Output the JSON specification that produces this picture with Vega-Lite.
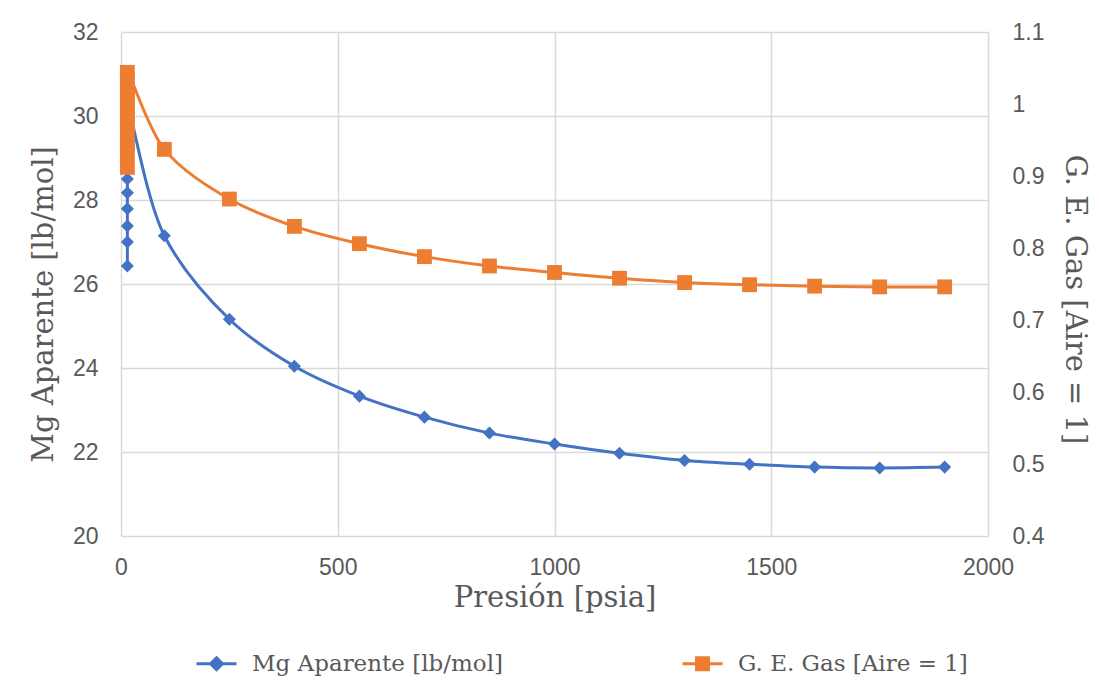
{
  "$schema": "https://vega.github.io/schema/vega-lite/v6.json",
  "width": 867,
  "height": 504,
  "autosize": "none",
  "padding": {"left": 121, "top": 32, "right": 111, "bottom": 162},
  "background": "white",
  "config": {
    "view": {"stroke": null},
    "axis": {
      "labelFont": "Liberation Sans",
      "labelFontSize": 23,
      "labelColor": "#595959",
      "titleFont": "DejaVu Serif",
      "titleFontSize": 29,
      "titleFontWeight": "normal",
      "titleColor": "#595959",
      "ticks": false,
      "domain": false,
      "gridColor": "#d9d9d9",
      "gridWidth": 1.5
    }
  },
  "data": {
    "values": [
      {"i": 0, "p": 14.7, "mg": 26.43, "ge": 0.912},
      {"i": 1, "p": 14.7, "mg": 27.0, "ge": 0.932},
      {"i": 2, "p": 14.7, "mg": 27.38, "ge": 0.945},
      {"i": 3, "p": 14.7, "mg": 27.79, "ge": 0.959},
      {"i": 4, "p": 14.7, "mg": 28.17, "ge": 0.972},
      {"i": 5, "p": 14.7, "mg": 28.5, "ge": 0.984},
      {"i": 6, "p": 14.7, "mg": 28.85, "ge": 0.996},
      {"i": 7, "p": 14.7, "mg": 29.2, "ge": 1.008},
      {"i": 8, "p": 14.7, "mg": 29.55, "ge": 1.02},
      {"i": 9, "p": 14.7, "mg": 29.9, "ge": 1.032},
      {"i": 10, "p": 14.7, "mg": 30.25, "ge": 1.044},
      {"i": 11, "p": 100, "mg": 27.15, "ge": 0.937},
      {"i": 12, "p": 250, "mg": 25.16, "ge": 0.868},
      {"i": 13, "p": 400, "mg": 24.04, "ge": 0.83},
      {"i": 14, "p": 550, "mg": 23.33, "ge": 0.806},
      {"i": 15, "p": 700, "mg": 22.83, "ge": 0.788},
      {"i": 16, "p": 850, "mg": 22.45, "ge": 0.775},
      {"i": 17, "p": 1000, "mg": 22.19, "ge": 0.766},
      {"i": 18, "p": 1150, "mg": 21.97, "ge": 0.758},
      {"i": 19, "p": 1300, "mg": 21.8, "ge": 0.752},
      {"i": 20, "p": 1450, "mg": 21.71, "ge": 0.749},
      {"i": 21, "p": 1600, "mg": 21.64, "ge": 0.747},
      {"i": 22, "p": 1750, "mg": 21.62, "ge": 0.746},
      {"i": 23, "p": 1900, "mg": 21.64, "ge": 0.746}
    ]
  },
  "layer": [
    {
      "encoding": {
        "x": {
          "field": "p",
          "type": "quantitative",
          "scale": {"domain": [0, 2000], "nice": false},
          "axis": {
            "values": [0, 500, 1000, 1500, 2000],
            "format": "d",
            "labelFlush": false,
            "title": "Presión [psia]",
            "labelPadding": 20,
            "titlePadding": 4,
            "grid": true
          }
        },
        "y": {
          "field": "mg",
          "type": "quantitative",
          "scale": {"domain": [20, 32], "nice": false, "zero": false},
          "axis": {
            "orient": "left",
            "values": [20, 22, 24, 26, 28, 30, 32],
            "title": "Mg Aparente [lb/mol]",
            "titleY": 272,
            "labelPadding": 23,
            "titlePadding": 14,
            "grid": true
          }
        },
        "order": {"field": "i", "type": "quantitative"}
      },
      "layer": [
        {
          "mark": {"type": "line", "interpolate": "catmull-rom", "strokeWidth": 3},
          "encoding": {
            "color": {
              "datum": "Mg Aparente [lb/mol]",
              "type": "nominal",
              "scale": {
                "domain": ["Mg Aparente [lb/mol]", "G. E. Gas [Aire = 1]"],
                "range": ["#4472C4", "#ED7D31"]
              },
              "legend": {
                "orient": "none",
                "legendX": 74,
                "legendY": 610,
                "direction": "horizontal",
                "title": null,
                "labelFont": "DejaVu Serif",
                "labelFontSize": 23,
                "labelColor": "#595959",
                "labelLimit": 0,
                "labelOffset": 14,
                "columnPadding": 172,
                "symbolSize": 1600,
                "symbolStrokeWidth": 3,
                "encode": {
                  "symbols": {
                    "update": {
                      "shape": {"signal": "datum.value == 'G. E. Gas [Aire = 1]' ? 'M-1,0H1M-0.3,-0.3H0.3V0.3H-0.3Z' : 'M-1,0H1M0,-0.3L0.3,0L0,0.3L-0.3,0Z'"},
                      "fill": {"scale": "color", "field": "value"},
                      "stroke": {"scale": "color", "field": "value"},
                      "strokeWidth": {"value": 3},
                      "opacity": {"value": 1}
                    }
                  }
                }
              }
            }
          }
        },
        {
          "mark": {"type": "point", "shape": "diamond", "filled": true, "size": 170, "opacity": 1},
          "encoding": {
            "color": {"datum": "Mg Aparente [lb/mol]", "type": "nominal"}
          }
        }
      ]
    },
    {
      "encoding": {
        "x": {"field": "p", "type": "quantitative"},
        "y": {
          "field": "ge",
          "type": "quantitative",
          "scale": {"domain": [0.4, 1.1], "nice": false, "zero": false},
          "axis": {
            "orient": "right",
            "values": [0.4, 0.5, 0.6, 0.7, 0.8, 0.9, 1, 1.1],
            "format": "~g",
            "title": "G. E. Gas [Aire = 1]",
            "titleY": 267,
            "labelPadding": 24,
            "titlePadding": 16,
            "grid": false
          }
        },
        "order": {"field": "i", "type": "quantitative"}
      },
      "layer": [
        {
          "mark": {"type": "line", "interpolate": "catmull-rom", "strokeWidth": 3},
          "encoding": {
            "color": {"datum": "G. E. Gas [Aire = 1]", "type": "nominal"}
          }
        },
        {
          "mark": {"type": "point", "shape": "square", "filled": true, "size": 220, "opacity": 1},
          "encoding": {
            "color": {"datum": "G. E. Gas [Aire = 1]", "type": "nominal"}
          }
        }
      ]
    }
  ],
  "resolve": {"scale": {"y": "independent"}}
}
